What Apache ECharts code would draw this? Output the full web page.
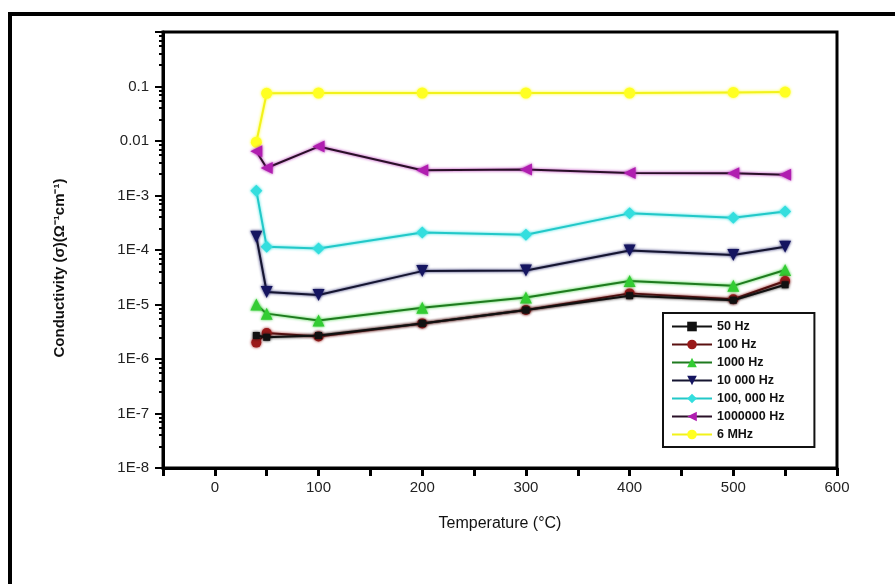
<!DOCTYPE html>
<html>
<head>
<meta charset="utf-8">
<script src="https://cdn.jsdelivr.net/npm/echarts@6/dist/echarts.min.js"></script>
<style>html,body{margin:0;padding:0;background:#fff;}#c{width:895px;height:584px;}</style>
</head>
<body>
<div id="c"></div>
<script>
// Temperature (°C)
var temps = [40, 50, 100, 200, 300, 400, 500, 550];
// Conductivity values per frequency
var s50Hz    = [2.7e-6, 2.5e-6, 2.7e-6, 4.5e-6, 7.9e-6, 1.45e-5, 1.2e-5, 2.3e-5];
var s100Hz   = [2.0e-6, 3.0e-6, 2.6e-6, 4.5e-6, 7.9e-6, 1.6e-5, 1.25e-5, 2.7e-5];
var s1000Hz  = [1.0e-5, 6.8e-6, 5.1e-6, 8.7e-6, 1.35e-5, 2.7e-5, 2.2e-5, 4.3e-5];
var s10kHz   = [1.75e-4, 1.7e-5, 1.5e-5, 4.1e-5, 4.2e-5, 9.8e-5, 8.1e-5, 1.15e-4];
var s100kHz  = [1.22e-3, 1.15e-4, 1.07e-4, 2.1e-4, 1.9e-4, 4.7e-4, 3.9e-4, 5.1e-4];
var s1MHz    = [6.5e-3, 3.2e-3, 7.9e-3, 2.9e-3, 3.0e-3, 2.6e-3, 2.55e-3, 2.4e-3];
var s6MHz    = [9.5e-3, 7.5e-2, 7.6e-2, 7.6e-2, 7.6e-2, 7.6e-2, 7.8e-2, 7.9e-2];
var seriesNames = ['50 Hz', '100 Hz', '1000 Hz', '10 000 Hz', '100, 000 Hz', '1000000 Hz', '6 MHz'];

function pairs(ys) { return temps.map(function (t, i) { return [t, ys[i]]; }); }

var styles = [
  {data: s50Hz,   symbol: 'rect',     size: 7,  fill: '#111111', line: '#111111'},
  {data: s100Hz,  symbol: 'circle',   size: 10, fill: '#9a1a1a', line: '#5a1010'},
  {data: s1000Hz, symbol: 'triangle', size: 12, fill: '#33cc33', line: '#1f7a1f'},
  {data: s10kHz,  symbol: 'path://M0,0 L10,0 L5,9 Z', size: 12, fill: '#151560', line: '#151530'},
  {data: s100kHz, symbol: 'diamond',  size: 12, fill: '#33dede', line: '#22c8c8'},
  {data: s1MHz,   symbol: 'path://M10,0 L10,10 L0,5 Z', size: 12, fill: '#b01eb0', line: '#2a1028'},
  {data: s6MHz,   symbol: 'circle',   size: 11, fill: '#ffff22', line: '#f2f21a'}
];

var series = styles.map(function (s, i) {
  return {
    name: seriesNames[i],
    type: 'line',
    data: pairs(s.data),
    symbol: s.symbol,
    symbolSize: s.size,
    showAllSymbol: true,
    z: 10 - i,
    itemStyle: {color: s.fill, borderWidth: 0, shadowColor: s.fill, shadowBlur: 3},
    lineStyle: {color: s.line, width: 2, shadowColor: s.fill, shadowBlur: 3, opacity: 1},
    emphasis: {disabled: true},
    animation: false
  };
});

var chart = echarts.init(document.getElementById('c'), null, {renderer: 'canvas'});
chart.setOption({
  backgroundColor: '#ffffff',
  animation: false,
  textStyle: {fontFamily: 'Arial, "Liberation Sans", sans-serif'},
  grid: {left: 163, top: 32, right: 58, bottom: 116, show: true, borderColor: '#000', borderWidth: 3},
  xAxis: {
    type: 'value', min: -50, max: 600, interval: 50,
    name: 'Temperature (°C)', nameLocation: 'middle', nameGap: 48,
    nameTextStyle: {fontSize: 16, color: '#111', fontFamily: '"Liberation Sans Narrow", Arial, sans-serif'},
    axisLine: {show: true, onZero: false, lineStyle: {color: '#000', width: 3}},
    axisTick: {show: true, inside: false, length: 8, lineStyle: {color: '#000', width: 3}},
    axisLabel: {
      margin: 12, fontSize: 15, color: '#222',
      formatter: function (v) { return (Math.round(v) % 100 === 0 && v >= 0) ? String(Math.round(v)) : ''; }
    },
    splitLine: {show: false}
  },
  yAxis: {
    type: 'log', logBase: 10, min: 1e-8, max: 1, splitNumber: 8,
    axisLine: {show: true, onZero: false, lineStyle: {color: '#000', width: 3}},
    axisTick: {show: true, length: 8, lineStyle: {color: '#000', width: 2}},
    minorTick: {show: true, splitNumber: 6, length: 4, lineStyle: {color: '#000', width: 2}},
    axisLabel: {
      margin: 14, fontSize: 15, color: '#222', showMaxLabel: false,
      formatter: function (v) {
        var e = Math.round(Math.log10(v));
        if (e >= 0) return '';
        if (e === -1) return '0.1';
        if (e === -2) return '0.01';
        return '1E-' + (-e);
      }
    },
    splitLine: {show: false}
  },
  legend: {
    show: true, orient: 'vertical', left: 663, top: 313,
    padding: [7, 30, 6, 8],
    itemGap: 5, itemWidth: 40, itemHeight: 12,
    backgroundColor: '#fff', borderColor: '#111', borderWidth: 2,
    textStyle: {fontSize: 12.5, fontWeight: 'bold', color: '#111', fontFamily: 'Arial, sans-serif'},
    data: seriesNames
  },
  graphic: [
    {type: 'rect', shape: {x: 8, y: 12, width: 887, height: 4}, style: {fill: '#000'}, silent: true},
    {type: 'rect', shape: {x: 8, y: 12, width: 4, height: 572}, style: {fill: '#000'}, silent: true},
    {type: 'text', x: 60, y: 268, rotation: Math.PI / 2, silent: true,
     style: {text: 'Conductivity (σ)(Ω⁻¹cm⁻¹)', fill: '#111', font: 'bold 15px Arial, sans-serif', textAlign: 'center', textVerticalAlign: 'middle'}}
  ],
  series: series
});
</script>
</body>
</html>
